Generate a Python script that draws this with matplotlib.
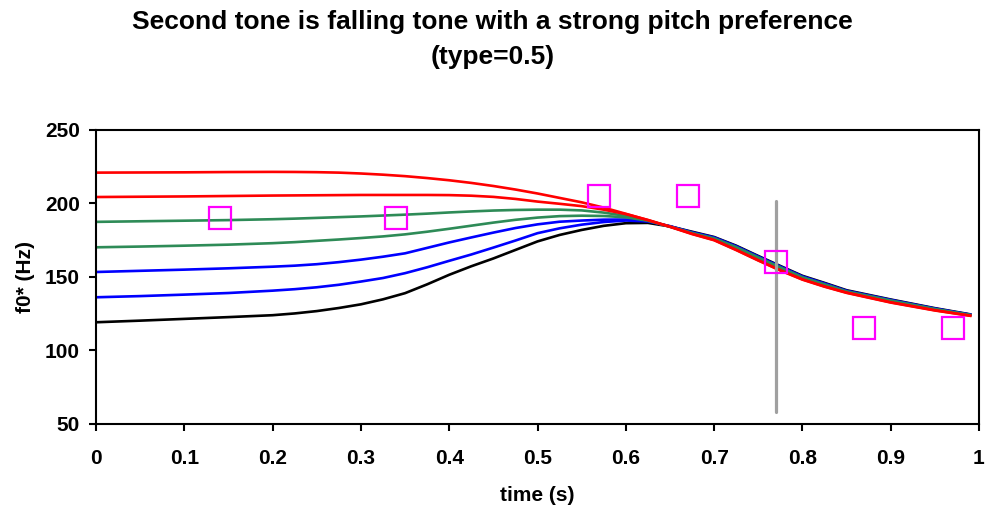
import matplotlib
matplotlib.use("Agg")
import matplotlib.pyplot as plt

plt.rcParams['font.family'] = ['Liberation Sans', 'DejaVu Sans']

# sample times (s)
t = [0.0, 0.05, 0.1, 0.15, 0.2, 0.225, 0.25, 0.275, 0.3, 0.325, 0.35, 0.375,
     0.4, 0.425, 0.45, 0.475, 0.5, 0.525, 0.55, 0.575, 0.6, 0.625, 0.65,
     0.675, 0.7, 0.725, 0.75, 0.775, 0.8, 0.825, 0.85, 0.9, 0.95, 0.99]

# f0 contours for the different initial pitches (Hz)
red_hi = [221.0, 221.1, 221.2, 221.4, 221.5, 221.45, 221.3, 221.0, 220.4, 219.6,
          218.6, 217.3, 215.8, 214.0, 211.9, 209.5, 206.8, 203.8, 200.8, 197.2,
          193.0, 188.7, 184.1, 179.2, 175.0, 168.3, 161.2, 154.4, 148.2, 143.4,
          139.2, 132.6, 127.2, 123.6]
red_lo = [204.4, 204.6, 204.8, 205.1, 205.4, 205.5, 205.6, 205.7, 205.8, 205.8,
          205.8, 205.8, 205.7, 205.3, 204.5, 203.1, 201.3, 199.8, 198.2, 195.8,
          192.8, 188.8, 184.3, 179.4, 175.2, 168.5, 161.4, 154.6, 148.4, 143.6,
          139.4, 132.8, 127.4, 123.7]
green_hi = [187.5, 187.9, 188.3, 188.7, 189.3, 189.7, 190.2, 190.7, 191.2, 191.8,
            192.4, 193.1, 193.9, 194.6, 195.2, 195.6, 195.8, 195.8, 195.3, 193.8,
            191.6, 188.4, 184.2, 179.8, 176.0, 170.0, 163.0, 156.2, 149.5, 144.7,
            139.9, 133.7, 128.0, 124.0]
green_lo = [170.2, 170.7, 171.3, 172.0, 173.0, 173.7, 174.6, 175.5, 176.5, 177.6,
            179.0, 180.8, 182.8, 184.9, 187.0, 188.9, 190.4, 191.4, 191.7, 191.5,
            190.6, 188.3, 184.3, 180.0, 176.3, 170.3, 163.3, 156.5, 149.8, 145.0,
            140.2, 134.0, 128.2, 124.2]
blue_hi = [153.4, 154.2, 155.0, 155.9, 157.0, 157.7, 158.7, 160.1, 161.8, 163.8,
           166.1, 169.8, 173.5, 176.9, 180.2, 183.3, 185.8, 187.6, 188.4, 189.0,
           189.1, 188.1, 184.4, 180.2, 176.6, 170.6, 163.6, 156.8, 150.1, 145.3,
           140.4, 134.2, 128.4, 124.3]
blue_lo = [136.2, 137.0, 138.0, 139.1, 140.7, 141.7, 143.0, 144.7, 146.9, 149.3,
           152.6, 156.6, 161.0, 165.3, 170.0, 174.8, 179.8, 183.1, 185.6, 187.4,
           188.4, 187.8, 184.6, 180.4, 176.9, 170.9, 163.9, 157.1, 150.4, 145.6,
           140.6, 134.4, 128.5, 124.4]
black = [119.2, 120.3, 121.5, 122.7, 124.0, 125.2, 126.8, 128.9, 131.4, 134.8,
         139.0, 145.0, 151.5, 157.3, 162.6, 168.4, 174.2, 178.6, 182.0, 184.8,
         186.6, 186.8, 184.4, 180.8, 177.2, 171.3, 164.3, 157.5, 150.8, 146.0,
         141.0, 134.7, 128.8, 124.6]

# target pitches
target_t = [0.14, 0.34, 0.57, 0.67, 0.77, 0.87, 0.97]
target_f0 = [190, 190, 205, 205, 160, 115, 115]

# tone boundary marker
boundary_t = 0.77
boundary_f0 = [58, 202]

fig = plt.figure(figsize=(9.85, 5.08), dpi=100)
ax = fig.add_axes([0.0975, 0.1654, 0.8964, 0.5787])

curves = [(black, 'black'), (blue_lo, '#0000ff'), (blue_hi, '#0000ff'),
          (green_lo, '#2e8b57'), (green_hi, '#2e8b57'),
          (red_lo, '#ff0000'), (red_hi, '#ff0000')]
for vals, col in curves:
    ax.plot(t, vals, color=col, lw=1.9, solid_joinstyle='round', zorder=2)

ax.plot([boundary_t, boundary_t], boundary_f0, color='#a0a0a0', lw=2.3,
        solid_capstyle='round', zorder=3)

ax.plot(target_t, target_f0, linestyle='none', marker='s', markersize=16.5,
        markerfacecolor='none', markeredgecolor='#ff00ff', markeredgewidth=1.6,
        zorder=4)

ax.set_xlim(0, 1)
ax.set_ylim(50, 250)
ax.set_xticks([i / 10 for i in range(11)])
ax.set_xticklabels(['0', '0.1', '0.2', '0.3', '0.4', '0.5', '0.6', '0.7',
                    '0.8', '0.9', '1'])
ax.set_yticks([50, 100, 150, 200, 250])

for sp in ax.spines.values():
    sp.set_linewidth(1.5)
    sp.set_color('black')
ax.tick_params(direction='out', length=5, width=1.5, labelsize=15)
ax.tick_params(axis='y', pad=6.5)
ax.tick_params(axis='x', pad=13)
for lbl in ax.get_xticklabels() + ax.get_yticklabels():
    lbl.set_fontweight('bold')

ax.set_xlabel('time (s)', fontsize=15, fontweight='bold', labelpad=13)
ax.set_ylabel('f0* (Hz)', fontsize=15, fontweight='bold', labelpad=7)

fig.text(0.5, 1 - 22 / 508, 'Second tone is falling tone with a strong pitch preference',
         ha='center', va='center', fontsize=19, fontweight='bold')
fig.text(0.5, 1 - 57 / 508, '(type=0.5)',
         ha='center', va='center', fontsize=19, fontweight='bold')

fig.savefig('out.png', dpi=100)
